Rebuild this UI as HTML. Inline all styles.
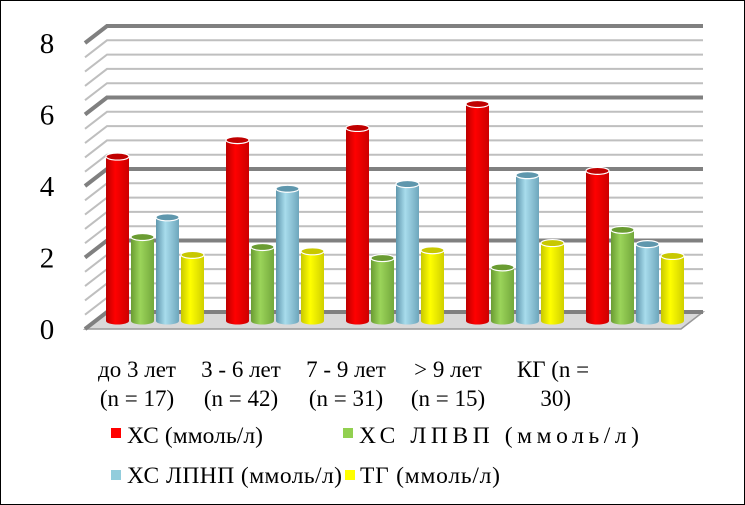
<!DOCTYPE html>
<html><head><meta charset="utf-8"><style>
body{margin:0;background:#fff}
svg{display:block}
text{font-family:"Liberation Serif",serif;fill:#000}
</style></head><body>
<svg id="c" width="745" height="505" viewBox="0 0 745 505">
<defs>
<linearGradient id="gr" x1="0" x2="1"><stop offset="0" stop-color="#b00"/><stop offset=".4" stop-color="#f00"/><stop offset="1" stop-color="#c00"/></linearGradient>
<linearGradient id="gg" x1="0" x2="1"><stop offset="0" stop-color="#6a9c32"/><stop offset=".4" stop-color="#9bd45a"/><stop offset="1" stop-color="#73a83c"/></linearGradient>
<linearGradient id="gb" x1="0" x2="1"><stop offset="0" stop-color="#5f97ad"/><stop offset=".4" stop-color="#a8dcec"/><stop offset="1" stop-color="#6ea6bc"/></linearGradient>
<linearGradient id="gy" x1="0" x2="1"><stop offset="0" stop-color="#c8c800"/><stop offset=".4" stop-color="#ffff00"/><stop offset="1" stop-color="#d0d000"/></linearGradient>
</defs>
<rect x="0.5" y="0.5" width="744" height="504" fill="#fff" stroke="#000"/>
<g id="grid"></g>
<g id="bars"></g>
<g id="labels"></g>
<g id="legend">
<rect x="111" y="428" width="10" height="10" fill="#f00"/>
<text x="127" y="443" font-size="23.5" textLength="136">ХС (ммоль/л)</text>
<rect x="343" y="428" width="10" height="10" fill="#92d050"/>
<text x="359" y="443" font-size="23.5" textLength="280">ХС ЛПВП (ммоль/л)</text>
<rect x="111" y="470" width="10" height="10" fill="#92cddc"/>
<text x="127" y="483" font-size="23.5" textLength="215">ХС ЛПНП (ммоль/л)</text>
<rect x="345" y="470" width="10" height="10" fill="#ffff00"/>
<text x="360" y="483" font-size="23.5" textLength="140">ТГ (ммоль/л)</text>
</g>
</svg>
<script>
const categories1=["до 3 лет","3 - 6 лет","7 - 9 лет","> 9 лет","КГ (n ="];
const categories2=["(n = 17)","(n = 42)","(n = 31)","(n = 15)","30)"];
const xc=[4.6,5.06,5.4,6.07,4.2];
const hdl=[2.35,2.07,1.76,1.5,2.55];
const ldl=[2.9,3.7,3.83,4.08,2.15];
const tg=[1.85,1.95,1.98,2.18,1.82];
const yTicks=[0,2,4,6,8];
const NS="http://www.w3.org/2000/svg";
function mk(tag,attrs,parent){const e=document.createElementNS(NS,tag);for(const k in attrs)e.setAttribute(k,attrs[k]);parent.appendChild(e);return e;}
const backY=v=>312-v*35.75, frontY=v=>329-v*35.75, barY=v=>321-v*35.75;
const grid=document.getElementById('grid');
const floor=mk('polygon',{points:"85,329 681,329 703,312 107,312",fill:"#d9d9d9",stroke:"#999","stroke-width":"1.5"},grid);


for(let i=0;i<=20;i++){
  const v=i*0.4;const major=(Math.abs(v/2-Math.round(v/2))<1e-6);
  const l=mk('polyline',{points:`85,${frontY(v)} 107,${backY(v)} 703,${backY(v)}`,fill:"none",stroke:major?"#808080":"#bfbfbf","stroke-width":major?4:2},grid);
  
  
}
yTicks.forEach(t=>{
  const tx=mk('text',{x:47,y:frontY(t)+10,"font-size":"29","text-anchor":"middle"},grid);
  tx.textContent=t;
  
  
});
const bars=document.getElementById('bars');
const series=[[xc,'url(#gr)','#c00000','xc'],[hdl,'url(#gg)','#6a9c32','hdl'],[ldl,'url(#gb)','#5f97ad','ldl'],[tg,'url(#gy)','#c8c800','tg']];
const centers=i=>155+i*120;
for(let i=0;i<xc.length;i++){
  series.forEach((s,j)=>{
    const x=centers(i)-50+j*25+1, w=23, top=barY(s[0][i]), base=321;
    const g=mk('g',{},bars);
    
    
    mk('rect',{x:x,y:top,width:w,height:base-top,fill:s[1]},g);
    mk('ellipse',{cx:x+w/2,cy:base,rx:w/2,ry:3.5,fill:s[1]},g);
    mk('ellipse',{cx:x+w/2,cy:top,rx:w/2,ry:3.5,fill:s[2],stroke:"#fff","stroke-width":"1.2"},g);
  });
}
const labels=document.getElementById('labels');
const lx=[137,241,346,448,553];
categories1.forEach((c,i)=>{
  const t=mk('text',{x:lx[i],y:377,"font-size":"23","text-anchor":"middle"},labels);
  t.textContent=c;
  
  
  const t2=mk('text',{x:i==4?571:lx[i],y:406,"font-size":"23","text-anchor":i==4?"end":"middle"},labels);
  t2.textContent=categories2[i];
  
  
});
</script>
</body></html>
